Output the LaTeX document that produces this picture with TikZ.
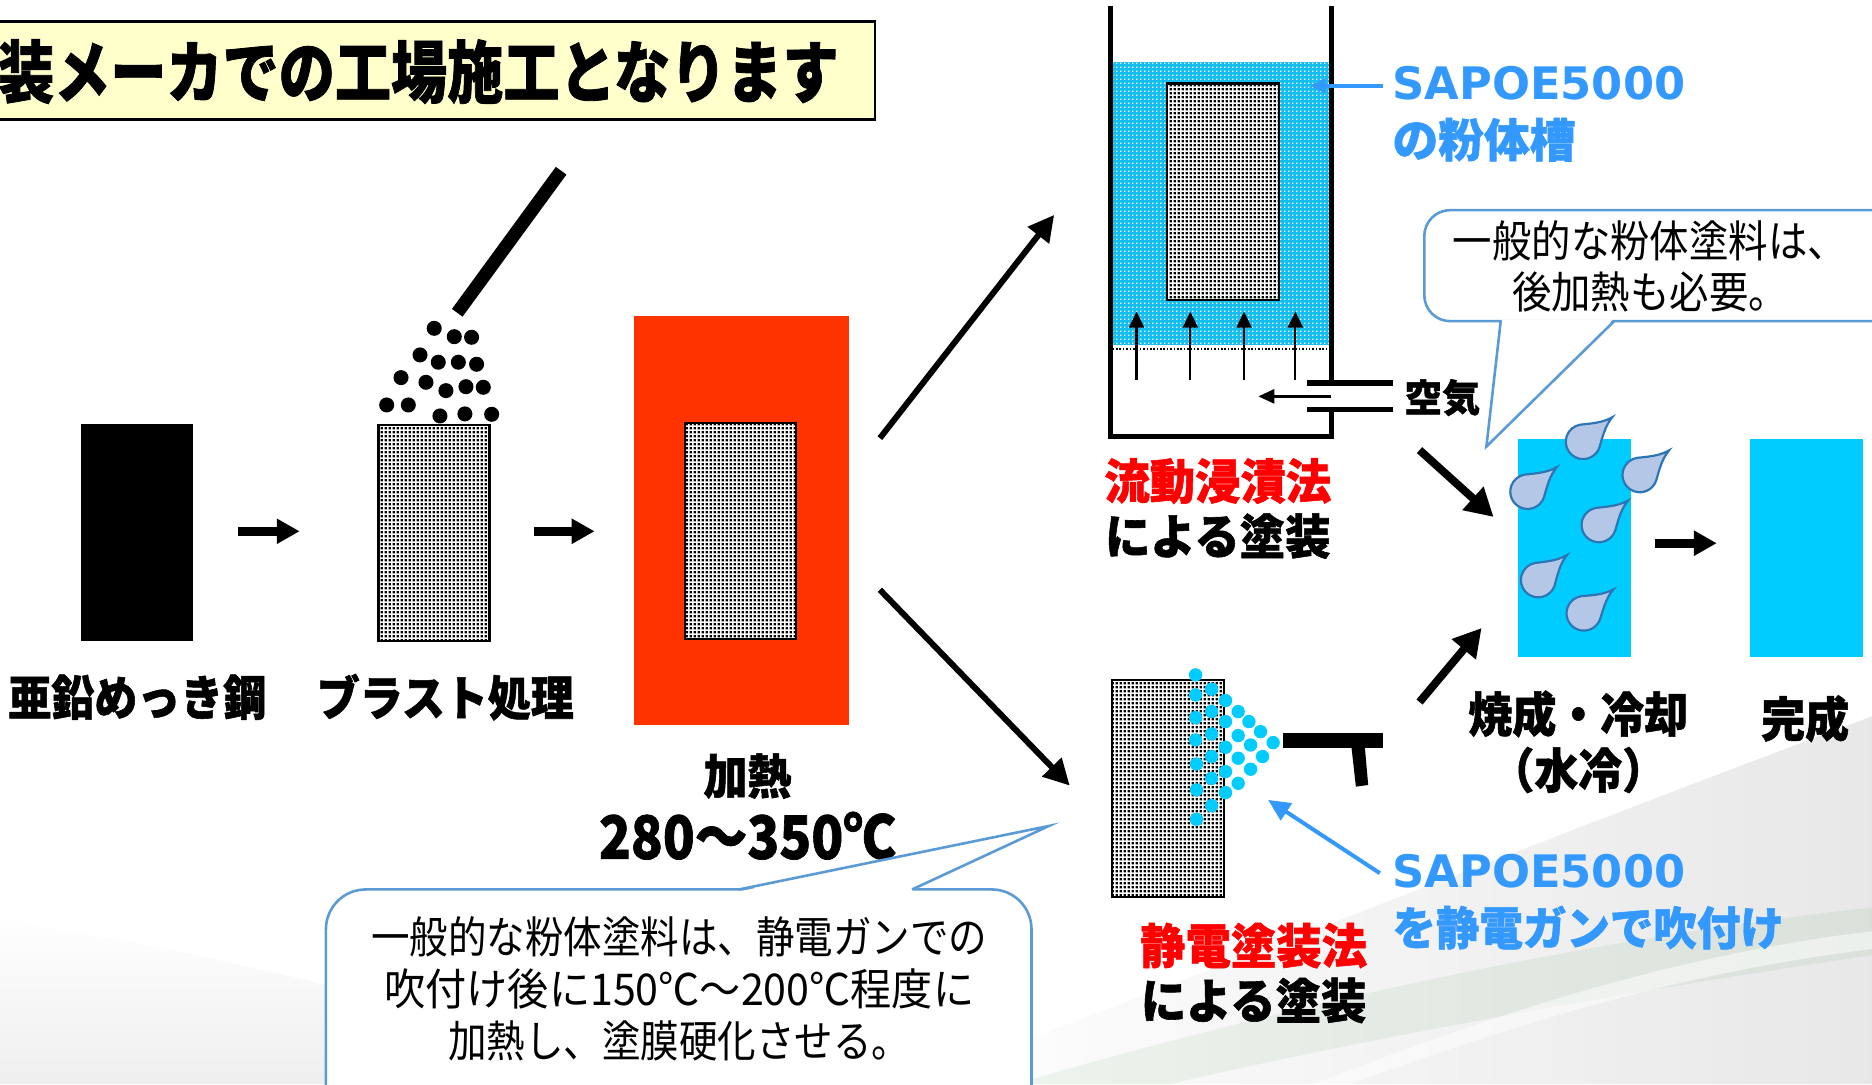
\documentclass[tikz,border=0pt]{standalone}
\usepackage{fontspec}
\usepackage{graphicx}
\setmainfont{Noto Sans CJK JP}[BoldFeatures={FakeBold=1.2}]
\newfontfamily\latinfont{DejaVu Sans}
\usetikzlibrary{arrows.meta,patterns}

% dense black stipple used for the blasted steel surface
\pgfdeclarepatternformonly{grain}{\pgfqpoint{0pt}{0pt}}{\pgfqpoint{2.1pt}{2.1pt}}{\pgfqpoint{2.1pt}{2.1pt}}{%
  \pgfpathrectangle{\pgfqpoint{0.4pt}{0.4pt}}{\pgfqpoint{1.3pt}{1.3pt}}\pgfusepath{fill}}
% fine light specks used for the fluidised powder
\pgfdeclarepatternformonly{speck}{\pgfqpoint{0pt}{0pt}}{\pgfqpoint{2.1pt}{2.1pt}}{\pgfqpoint{2.1pt}{2.1pt}}{%
  \pgfpathrectangle{\pgfqpoint{0.7pt}{0.7pt}}{\pgfqpoint{0.7pt}{0.7pt}}\pgfusepath{fill}}

\definecolor{heat}{HTML}{FF3300}
\definecolor{coat}{HTML}{00CCFF}
\definecolor{powder}{HTML}{14BEF0}
\definecolor{sapoe}{HTML}{3399FF}
\definecolor{callline}{HTML}{5B9BD5}
\definecolor{titlebg}{HTML}{FFFFCC}
\definecolor{dropfill}{HTML}{B4C7E7}
\definecolor{dropline}{HTML}{2E75B6}
\definecolor{redlbl}{HTML}{FF0000}

\newcommand{\sx}[2]{\scalebox{#1}[1]{#2}}

% teardrop: centre, direction of the tip (degrees)
\newcommand{\waterdrop}[2]{%
  \begin{scope}[shift={#1}, rotate=#2, scale=14.5]
    \draw[dropline, fill=dropfill, line width=1.1pt]
      (2.2,0) .. controls (1.55,0.12) and (1.05,0.5) .. (0.5,0.866)
      arc[start angle=60, end angle=300, radius=1]
      .. controls (1.05,-0.5) and (1.55,-0.12) .. (2.2,0) -- cycle;
  \end{scope}}

\tikzset{
  lbl/.style={font=\bfseries\fontsize{24}{26}\selectfont, inner sep=0pt},
  bluelbl/.style={font=\bfseries\fontsize{23}{25}\selectfont, inner sep=0pt, text=sapoe, anchor=west},
  latinlbl/.style={font=\latinfont\bfseries\fontsize{22.5}{25}\selectfont, inner sep=0pt, text=sapoe, anchor=west},
  note/.style={font=\fontsize{22}{26}\selectfont, inner sep=0pt, align=center},
  fat arrow/.style={line width=4.7pt, -{Triangle[length=11.5pt,width=12pt]}},
  diag arrow/.style={line width=3pt, -{Triangle[length=13pt,width=13pt]}},
  cool arrow/.style={line width=4pt, -{Triangle[length=14pt,width=15pt]}},
  up arrow/.style={line width=1.1pt, -{Triangle[length=8pt,width=7.5pt]}},
  stipple/.style={line width=1.1pt, pattern=grain, pattern color=black},
  callout/.style={draw=callline, line width=1.3pt, fill=white},
  bead/.style={fill=coat},
}

\begin{document}
\begin{tikzpicture}[x=0.6pt, y=-0.6pt]
\useasboundingbox (0,0) rectangle (1568,908);
\clip (0,0) rectangle (1568,908);
\fill[white] (0,0) rectangle (1568,908);

% soft backdrop swooshes
\shade[top color=white, bottom color=black!9, opacity=0.7]
  (0,770) .. controls (250,810) and (450,870) .. (560,908) -- (0,908) -- cycle;
\shade[left color=white, right color=black!12, opacity=0.75]
  (760,908) .. controls (1000,820) and (1300,700) .. (1568,600) -- (1568,908) -- cycle;
\fill[green!45!black, opacity=0.06]
  (850,908) .. controls (1050,850) and (1300,790) .. (1568,760)
  -- (1568,800) .. controls (1300,840) and (1100,880) .. (980,908) -- cycle;
\fill[white, opacity=0.5]
  (1100,908) .. controls (1250,850) and (1400,800) .. (1568,780)
  -- (1568,795) .. controls (1400,815) and (1250,865) .. (1130,908) -- cycle;

% heading
\draw[fill=titlebg, line width=1.2pt] (-10,18) rectangle (733,100);
\node[anchor=west, inner sep=0pt, font=\bfseries\fontsize{34}{36}\selectfont] (title) at (-2,60)
  {\sx{0.83}{装メーカでの工場施工となります}};

% 1: galvanised steel
\fill (68,355) rectangle (162,537);
\coordinate (zincOut) at (199,445);
\coordinate (blastIn) at (251,445);
\draw[fat arrow] (zincOut) -- (blastIn);
\node[lbl] (zincLbl) at (115,584) {\sx{0.9}{亜鉛めっき鋼}};

% 2: blasting
\draw[stipple] (317,356) rectangle (410,537);
\draw[line width=6.6pt] (470,143) -- (383,262);
\foreach \p in {(363.7,275),(380.5,282),(395,282.5),(351.8,297.3),(367.1,303.4),
  (383.9,303.4),(399.2,305.1),(335.9,316.3),(356.8,320.2),(373.5,327.2),(390.3,323.9),
  (404.8,324.4),(323.9,339.2),(342,339.2),(368.5,348.4),(389.4,346.7),(411.8,347)}
  \fill \p circle (6.3);
\coordinate (blastOut) at (447,445);
\coordinate (heatIn) at (498,445);
\draw[fat arrow] (blastOut) -- (heatIn);
\node[lbl] (blastLbl) at (373,584) {\sx{0.9}{ブラスト処理}};

% 3: preheating
\fill[heat] (531,265) rectangle (711,607);
\fill[white] (573.5,354) rectangle (667,535);
\draw[stipple] (573.5,354) rectangle (667,535);
\node[lbl] (heatLbl) at (626,650) {\sx{0.92}{加熱}};
\node[lbl, font=\bfseries\fontsize{30}{32}\selectfont] (heatTemp) at (626,700) {\sx{0.88}{280～350℃}};

\coordinate (heatUp) at (737,367);
\coordinate (dipIn) at (883,180);
\coordinate (heatDown) at (737,494);
\coordinate (sprayIn) at (896,658);
\draw[diag arrow] (heatUp) -- (dipIn);
\draw[diag arrow] (heatDown) -- (sprayIn);

% 4a: fluidised bed
\fill[powder] (930,52) rectangle (1115,289);
\fill[pattern=speck, pattern color=white] (930,52) rectangle (1115,289);
\draw[line width=1pt, dash pattern=on 0.8pt off 0.9pt] (932,292) -- (1113,292);
\fill[white] (977.6,70) rectangle (1071.6,251);
\draw[stipple] (977.6,70) rectangle (1071.6,251);
\foreach \x in {952,997,1042,1085}
  \draw[up arrow] (\x,318) -- (\x,261);
\draw[line width=2.5pt] (1115,321) -- (1115,5);
\draw[line width=2.5pt] (930,5) -- (930,366) -- (1115,366) -- (1115,343);
\draw[line width=3pt] (1095,321) -- (1167,321);
\draw[line width=3pt] (1095,343) -- (1167,343);
\coordinate (airIn) at (1115,332);
\coordinate (airOut) at (1054,332);
\draw[line width=1.4pt, -{Triangle[length=8pt,width=7pt]}] (airIn) -- (airOut);
\node[lbl, anchor=west, font=\bfseries\fontsize{19}{21}\selectfont] (airLbl) at (1176,333) {空気};

\node[latinlbl] (bedName) at (1166,70) {SAPOE5000};
\node[bluelbl] (bedSub) at (1166,117) {\sx{1}{の粉体槽}};
\coordinate (bedTag) at (1158,72);
\coordinate (bedPt) at (1097,72);
\draw[sapoe, line width=2pt, -{Triangle[length=8pt,width=7pt]}] (bedTag) -- (bedPt);

\node[lbl, text=redlbl] (dipLbl) at (1020,403) {\sx{0.95}{流動浸漬法}};
\node[lbl] (dipLbl2) at (1020,449) {\sx{0.95}{による塗装}};

% 4b: electrostatic spraying
\draw[stipple] (931.6,569.5) rectangle (1025.4,751);
\foreach \p in {(1001.4,565.3),(1001.4,582.1),(1014.8,577.3),(1026.5,586.8),(1001.4,601.1),
  (1014.8,596),(1037.1,596),(1026.5,604.4),(1046.1,604.4),(1001.4,619.8),(1014.8,614.7),
  (1037.1,616.1),(1055.8,612.8),(1026.5,625.9),(1047.5,624),(1066.4,622),(1002.2,639.9),
  (1014.8,633.7),(1037.1,635.1),(1057.5,633.7),(1026.5,646.3),(1047.5,644.3),(1002.2,661.6),
  (1014.8,651.9),(1037.1,656.1),(1026.5,663.9),(1014.8,674.8),(1002.2,686.2)}
  \fill[bead] \p circle (5.6);
\fill (1075,614.2) rectangle (1158.6,626.7);
\fill (1132,626) -- (1143.2,626) -- (1146,657.5) -- (1135.7,658.9) -- cycle;

\node[latinlbl] (gunName) at (1166,730) {SAPOE5000};
\node[bluelbl] (gunSub) at (1166,777) {\sx{0.95}{を静電ガンで吹付け}};
\coordinate (gunTag) at (1155.8,731.4);
\coordinate (gunPt) at (1062.2,670);
\draw[sapoe, line width=2pt, -{Triangle[length=11pt,width=10pt]}] (gunTag) -- (gunPt);

\node[lbl, text=redlbl] (sprayLbl) at (1050,792) {\sx{0.95}{静電塗装法}};
\node[lbl] (sprayLbl2) at (1050,838) {\sx{0.95}{による塗装}};

% 5: baking and water cooling
\coordinate (dipOut) at (1189,377);
\coordinate (bakeInA) at (1251,433);
\coordinate (sprayOut) at (1189,588);
\coordinate (bakeInB) at (1241,526);
\draw[cool arrow] (dipOut) -- (bakeInA);
\draw[cool arrow] (sprayOut) -- (bakeInB);
\fill[coat] (1271.5,367.7) rectangle (1366.5,550);
\waterdrop{(1326,370)}{40}
\waterdrop{(1279.5,411.8)}{40}
\waterdrop{(1373.5,397.8)}{40}
\waterdrop{(1339.2,439.7)}{40}
\waterdrop{(1288.4,485.8)}{41}
\waterdrop{(1326.6,513.7)}{39}
\node[lbl] (bakeLbl) at (1322,598) {\sx{0.92}{焼成・冷却}};
\node[lbl] (bakeLbl2) at (1322,645) {\sx{0.92}{（水冷）}};

\coordinate (bakeOut) at (1386,455);
\coordinate (doneIn) at (1438,455);
\draw[fat arrow] (bakeOut) -- (doneIn);

% 6: finished
\fill[coat] (1465.7,367.7) rectangle (1560.5,550);
\node[lbl] (doneLbl) at (1512,602) {\sx{0.92}{完成}};

% callout: post-heating of ordinary powder paints
\draw[callout, rounded corners=13pt] (1193,176) rectangle (1620,269);
\fill[white] (1258,267.5) -- (1351,267.5) -- (1245,374) -- cycle;
\coordinate (noteTip) at (1245,374);
\draw[callline, line width=1.3pt, line join=miter] (1257,269) -- (noteTip) -- (1352,269);
\node[note] (noteA) at (1382,223)
  {\sx{0.9}{一般的な粉体塗料は、}\\\sx{0.9}{後加熱も必要。}};

% callout: curing of electrostatic powder paints
\draw[callout, rounded corners=20pt] (273,745) rectangle (864,960);
\fill[white] (620,746.5) -- (763,746.5) -- (878.6,691.8) -- cycle;
\coordinate (noteTipB) at (878.6,691.8);
\draw[callline, line width=1.3pt, line join=miter] (619,745) -- (noteTipB) -- (764,745);
\node[note, font=\fontsize{22}{26.2}\selectfont] (noteB) at (569,828)
  {\sx{0.88}{一般的な粉体塗料は、静電ガンでの}\\
   \sx{0.94}{吹付け後に150℃～200℃程度に}\\
   \sx{0.88}{加熱し、塗膜硬化させる。}};
\end{tikzpicture}
\end{document}
